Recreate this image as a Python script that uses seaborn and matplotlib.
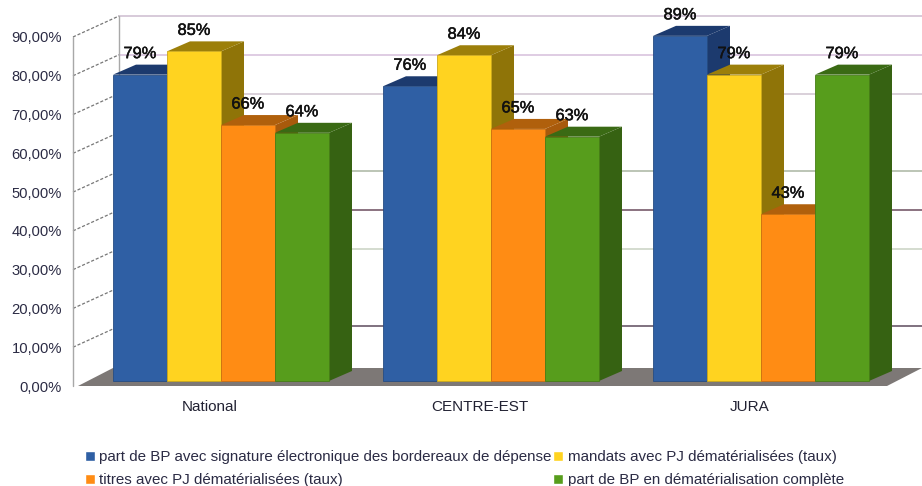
import matplotlib
matplotlib.use("Agg")
import matplotlib.pyplot as plt
import matplotlib.patheffects as pe
from matplotlib.patches import Polygon
from matplotlib.colors import to_rgb
import pandas as pd
import seaborn as sns

regions = ["National", "CENTRE-EST", "JURA"]
series_names = [
    "part de BP avec signature électronique des bordereaux de dépense",
    "mandats avec PJ dématérialisées (taux)",
    "titres avec PJ dématérialisées (taux)",
    "part de BP en dématérialisation complète",
]
signature_rate = [79, 76, 89]
mandates_rate = [85, 84, 79]
receipts_rate = [66, 65, 43]
full_rate = [64, 63, 79]
all_rates = [signature_rate, mandates_rate, receipts_rate, full_rate]
y_ticks = [0, 10, 20, 30, 40, 50, 60, 70, 80, 90]
y_tick_labels = ["0,00%", "10,00%", "20,00%", "30,00%", "40,00%",
                 "50,00%", "60,00%", "70,00%", "80,00%", "90,00%"]

face_colors = ["#2f5fa4", "#ffd320", "#ff8c14", "#579d1c"]
side_colors = ["#1c3a6e", "#8f7408", "#a85a0c", "#366212"]
top_colors = ["#1c3a6e", "#9c7f0a", "#b0600c", "#3a6a14"]

# Back wall rules: only these levels show a line, each with its own tint
wall_rule_colors = {
    90: "#cdbccf", 80: "#d6bedb", 70: "#cfc4cf",
    50: "#a9b5a2", 40: "#6b4c5e", 30: "#c9d2c2", 10: "#5c4a5c",
}

rows = [
    {"region": r, "series": s, "rate": vals[i]}
    for s, vals in zip(series_names, all_rates)
    for i, r in enumerate(regions)
]
table = pd.DataFrame(rows)

sns.set_theme(style="white")
plt.rcParams["font.family"] = ["Liberation Sans", "DejaVu Sans"]

W, H = 922, 486
fig = plt.figure(figsize=(W / 100, H / 100), dpi=100)
# Axes span the front plane of the 3D box, in figure pixels
left_px, right_px, base_px, top_px = 73, 922, 386, 16
ax = fig.add_axes([left_px / W, 1 - base_px / H,
                   (right_px - left_px) / W, (base_px - top_px) / H])

px_per_x = 270.0
px_per_y = 3.878
x0_px = 210
ax.set_ylim(0, (base_px - top_px) / px_per_y)


def dx(px):
    return px / px_per_x


def dy(px):
    return px / px_per_y


sns.barplot(data=table, x="region", y="rate", hue="series", order=regions,
            hue_order=series_names, palette=face_colors, width=0.8, gap=0.0,
            saturation=1, errorbar=None, ax=ax, zorder=10)
ax.set_xlim((left_px - x0_px) / px_per_x, (right_px - x0_px) / px_per_x)
xl, xr = ax.get_xlim()

# Back wall, left wall and floor of the box
wall_dx, wall_dy = dx(46), dy(21)
wall_kw = dict(clip_on=False, zorder=1)
for v, color in wall_rule_colors.items():
    ax.plot([xl + wall_dx, xr], [v + wall_dy, v + wall_dy],
            color=color, lw=1.1, **wall_kw)
for v in y_ticks[1:]:
    ax.plot([xl, xl + wall_dx], [v, v + wall_dy], color="#777777", lw=0.9,
            ls=(0, (2.5, 1.5)), **wall_kw)
ax.plot([xl, xl], [0, 90], color="#a8a8a8", lw=1, **wall_kw)
ax.plot([xl + wall_dx] * 2, [dy(16), 90 + wall_dy],
        color="#a8a8a8", lw=1, **wall_kw)

ax.add_patch(Polygon([(xl + dx(5), 0), (xl + dx(40), dy(18)), (xr, dy(18)),
                      (xr - dx(35), 0)],
                     closed=True, facecolor="#7d7876", edgecolor="none",
                     clip_on=False, zorder=2))

# Extrude each bar: lift fronts off the floor edge, then add side and top faces
shift_x, shift_y = dx(11), dy(5)
depth_x, depth_y = dx(23), dy(10)
bars = [b for c in ax.containers for b in c]
n_region = len(regions)
for order, bar in enumerate(sorted(bars, key=lambda b: b.get_x())):
    s_idx = bars.index(bar) // n_region
    x = bar.get_x() + shift_x
    w = bar.get_width()
    h = bar.get_height()
    z = 10 + order * 0.1
    bar.set_x(x)
    bar.set_y(shift_y)
    bar.set_zorder(z + 0.02)
    bar.set_edgecolor(tuple(c * 0.8 for c in to_rgb(face_colors[s_idx])))
    bar.set_linewidth(0.6)
    ax.add_patch(Polygon([(x + w, shift_y), (x + w + depth_x, shift_y + depth_y),
                          (x + w + depth_x, shift_y + h + depth_y), (x + w, shift_y + h)],
                         closed=True, facecolor=side_colors[s_idx], edgecolor="none",
                         zorder=z))
    ax.add_patch(Polygon([(x, shift_y + h), (x + depth_x, shift_y + h + depth_y),
                          (x + w + depth_x, shift_y + h + depth_y), (x + w, shift_y + h)],
                         closed=True, facecolor=top_colors[s_idx], edgecolor="none",
                         zorder=z + 0.01))
    ax.annotate(f"{h:.0f}%", xy=(x + w / 2, shift_y + h), xytext=(0, 21),
                textcoords="offset pixels", ha="center", va="center",
                fontsize=11.8, color="#111111", annotation_clip=False, zorder=30,
                path_effects=[pe.withStroke(linewidth=0.35, foreground="#111111")])

ax.set_yticks(y_ticks, y_tick_labels)
ax.tick_params(axis="y", length=0, pad=8, labelsize=10.6, labelcolor="#2b2b44")
ax.tick_params(axis="x", length=0, pad=10, labelsize=11, labelcolor="#222233")
ax.set_xlabel("")
ax.set_ylabel("")
for spine in ax.spines.values():
    spine.set_visible(False)
ax.patch.set_alpha(0)

# The legend fills column by column; list entries so they read across rows
handles, labels = ax.get_legend_handles_labels()
ax.get_legend().remove()
reading_order = [0, 2, 1, 3]
fig.legend([handles[i] for i in reading_order], [labels[i] for i in reading_order],
           ncol=2, loc="lower left", bbox_to_anchor=(85 / W, -1 / H), frameon=False,
           fontsize=10.9, handlelength=0.65, handleheight=0.65, handletextpad=0.3,
           columnspacing=0.1, labelspacing=0.6, labelcolor="#2b2b44",
           borderpad=0, borderaxespad=0)

fig.savefig("out.png", dpi=100)
